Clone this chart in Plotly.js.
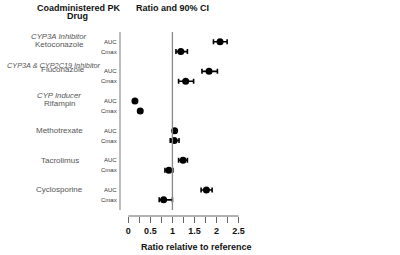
<!DOCTYPE html>
<html><head><meta charset="utf-8">
<script src="https://cdn.plot.ly/plotly-3.0.1.min.js"></script>
<style>html,body{margin:0;padding:0;background:#fff}#chart{width:400px;height:255px}</style>
</head><body><div id="chart"></div>
<script>
// Data
const drugs = ["Ketoconazole", "Fluconazole", "Rifampin", "Methotrexate", "Tacrolimus", "Cyclosporine"];
const classes = ["CYP3A Inhibitor", "CYP3A & CYP2C19 Inhibitor", "CYP Inducer", "", "", ""];
const aucRatio = [2.08, 1.83, 0.15, 1.05, 1.24, 1.77];
const aucLo    = [1.93, 1.67, 0.13, 1.02, 1.14, 1.65];
const aucHi    = [2.24, 2.02, 0.17, 1.08, 1.34, 1.90];
const cmaxRatio = [1.19, 1.30, 0.27, 1.04, 0.92, 0.80];
const cmaxLo    = [1.08, 1.14, 0.25, 0.95, 0.83, 0.70];
const cmaxHi    = [1.34, 1.48, 0.30, 1.15, 1.01, 1.00];
const tickVals = [0, 0.25, 0.5, 0.75, 1, 1.25, 1.5, 1.75, 2, 2.25, 2.5];
const tickText = ["0", "", "0.5", "", "1", "", "1.5", "", "2", "", "2.5"];
const metrics = ["AUC", "Cmax"];

const FONT = "Liberation Sans, Arial, sans-serif";
const yAuc = drugs.map((d, i) => 3 * i);
const yCmax = drugs.map((d, i) => 3 * i + 1);

function trace(ratio, lo, hi, ys) {
  return {
    type: "scatter", mode: "markers", x: ratio, y: ys,
    marker: {color: "#000", size: 7},
    error_x: {type: "data", symmetric: false,
      array: ratio.map((v, i) => hi[i] - v),
      arrayminus: ratio.map((v, i) => v - lo[i]),
      color: "#000", thickness: 1.6, width: 2.5},
    showlegend: false, hoverinfo: "skip", cliponaxis: false
  };
}

const L = 120, pw = 122.7, R = 400 - L - pw;
function px2paper(px) { return (px - L) / pw; }

const annotations = [];
drugs.forEach((d, i) => {
  metrics.forEach((m, k) => {
    annotations.push({text: m, xref: "paper", x: 0, xanchor: "right", xshift: -1.5,
      yref: "y", y: 3 * i + k, yanchor: "middle", showarrow: false,
      font: {family: FONT, size: 6, color: "#333"}});
  });
  if (classes[i]) {
    annotations.push({text: "<i>" + classes[i] + "</i>", xref: "paper",
      x: px2paper(i === 1 ? 54 : 59), xanchor: "center",
      yref: "y", y: 3 * i, yanchor: "middle", yshift: i === 1 ? 6 : 5.5, showarrow: false,
      font: {family: FONT, size: i === 1 ? 7.3 : 7.8, color: "#555"}});
    annotations.push({text: d, xref: "paper", x: px2paper(i === 1 ? 63 : 60), xanchor: "center",
      yref: "y", y: 3 * i, yanchor: "middle", yshift: i === 1 ? 1.5 : -2.5, showarrow: false,
      font: {family: FONT, size: 8, color: "#555"}});
  } else {
    annotations.push({text: d, xref: "paper", x: px2paper(60), xanchor: "center",
      yref: "y", y: 3 * i, yanchor: "middle", showarrow: false,
      font: {family: FONT, size: 8, color: "#555"}});
  }
});
annotations.push({text: "<b>Coadministered PK</b>", xref: "paper", yref: "paper",
  x: px2paper(79), y: 1, yshift: 24, xanchor: "center", yanchor: "middle", showarrow: false,
  font: {family: FONT, size: 9, color: "#111"}});
annotations.push({text: "<b>Drug</b>", xref: "paper", yref: "paper",
  x: px2paper(78), y: 1, yshift: 16, xanchor: "center", yanchor: "middle", showarrow: false,
  font: {family: FONT, size: 9, color: "#111"}});
annotations.push({text: "<b>Ratio and 90% CI</b>", xref: "paper", yref: "paper",
  x: px2paper(172.5), y: 1, yshift: 24, xanchor: "center", yanchor: "middle", showarrow: false,
  font: {family: FONT, size: 9, color: "#111"}});
annotations.push({text: "<b>Ratio relative to reference</b>", xref: "paper", yref: "paper",
  x: px2paper(196), y: 0, yshift: -31, xanchor: "center", yanchor: "middle", showarrow: false,
  font: {family: FONT, size: 9, color: "#111"}});

const shapes = [
  {type: "line", xref: "paper", yref: "paper", x0: 0, x1: 0, y0: 1, y1: (216 - 210) / 184,
   line: {color: "#999", width: 1.3}},
  {type: "line", xref: "x", yref: "paper", x0: 1, x1: 1, y0: 1, y1: (216 - 210) / 184,
   line: {color: "#888", width: 1.3}},
  {type: "line", xref: "x", yref: "paper", x0: 0, x1: 2.5, y0: 0, y1: 0,
   line: {color: "#666", width: 1}}
];

const layout = {
  width: 400, height: 255,
  margin: {l: L, r: R, t: 32, b: 39},
  paper_bgcolor: "#fff", plot_bgcolor: "rgba(0,0,0,0)",
  xaxis: {range: [-8.3 / 44, -8.3 / 44 + pw / 44], showgrid: false, zeroline: false, showline: false,
    tickmode: "array", tickvals: tickVals, ticktext: tickText, ticks: "outside",
    ticklen: 6, tickwidth: 1, tickcolor: "#666",
    tickfont: {family: FONT, size: 9, color: "#111", weight: "bold"}},
  yaxis: {range: [(216 - 41.7) / 9.883, (32 - 41.7) / 9.883], showgrid: false, zeroline: false,
    showline: false, showticklabels: false, ticks: ""},
  annotations: annotations, shapes: shapes,
  font: {family: FONT}
};

Plotly.newPlot("chart", [trace(aucRatio, aucLo, aucHi, yAuc), trace(cmaxRatio, cmaxLo, cmaxHi, yCmax)],
  layout, {staticPlot: true, displayModeBar: false});
</script></body></html>
